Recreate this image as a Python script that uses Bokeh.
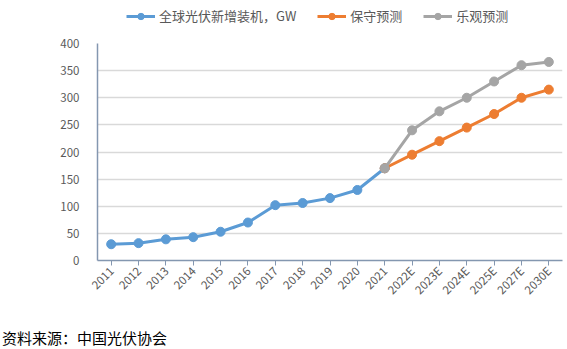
import math
from bokeh.plotting import figure
from bokeh.layouts import column
from bokeh.models import Legend, LegendItem, Div, FactorRange, Range1d, SingleIntervalTicker
from bokeh.embed import file_html
from bokeh.resources import INLINE

categories = ["2011", "2012", "2013", "2014", "2015", "2016", "2017", "2018", "2019",
              "2020", "2021", "2022E", "2023E", "2024E", "2025E", "2027E", "2030E"]
hist_x = categories[:11]
hist_y = [30, 32, 39, 43, 53, 70, 102, 106, 115, 130, 170]
fc_x = categories[10:]
cons_y = [170, 195, 220, 245, 270, 300, 315]
opt_y = [170, 240, 275, 300, 330, 360, 366]

series_names = ["全球光伏新增装机，GW", "保守预测", "乐观预测"]
source_text = "资料来源：中国光伏协会"
BLUE, ORANGE, GRAY = "#5b9bd5", "#ed7d31", "#a5a5a5"
FONT = "Noto Sans CJK SC"
W = 567

# ---- legend strip (frame aligned with the main chart: 97..562) ----
top = figure(x_range=Range1d(0, 1), y_range=Range1d(0, 1), width=W, height=35,
             min_border_left=97, min_border_right=5, min_border_top=0, min_border_bottom=0,
             output_backend="svg", toolbar_location=None, outline_line_color=None,
             background_fill_color="white", border_fill_color="white")
top.axis.visible = False
top.grid.grid_line_color = None
colors = [BLUE, ORANGE, GRAY]
items = []
for name, c in zip(series_names, colors):
    ln = top.line([-5, -4], [-5, -5], line_color=c, line_width=3)
    sc = top.scatter([-5], [-5], size=9, fill_color=c, line_color=c)
    items.append(LegendItem(label=name, renderers=[ln, sc]))
legend = Legend(items=items, orientation="horizontal", location=(29, 10),
                label_text_font=FONT, label_text_font_size="13px",
                label_text_color="#595959", glyph_width=29, glyph_height=16,
                spacing=21, padding=2, margin=0, border_line_color=None,
                background_fill_alpha=0, label_standoff=4)
top.add_layout(legend, "center")

# ---- main chart ----
p = figure(x_range=FactorRange(*categories, range_padding=0), y_range=Range1d(0, 400),
           width=W, height=285, min_border_left=97, min_border_right=5,
           min_border_top=8, min_border_bottom=60,
           output_backend="svg", toolbar_location=None, background_fill_color="white",
           border_fill_color="white", outline_line_color=None)

p.line(hist_x, hist_y, line_color=BLUE, line_width=3)
p.scatter(hist_x, hist_y, size=9, fill_color=BLUE, line_color=BLUE)
p.line(fc_x, cons_y, line_color=ORANGE, line_width=3)
p.scatter(fc_x, cons_y, size=9, fill_color=ORANGE, line_color=ORANGE)
p.line(fc_x, opt_y, line_color=GRAY, line_width=3)
p.scatter(fc_x, opt_y, size=9, fill_color=GRAY, line_color=GRAY)

p.xgrid.grid_line_color = None
p.ygrid.grid_line_color = "#d9d9d9"
p.ygrid.grid_line_width = 1.5
p.yaxis.ticker = SingleIntervalTicker(interval=50)

axis_color = "#8497b0"
for ax in (p.xaxis[0], p.yaxis[0]):
    ax.axis_line_color = axis_color
    ax.axis_line_width = 1.5
    ax.major_label_text_font = FONT
    ax.major_label_text_font_size = "11.5px"
    ax.major_label_text_color = "#595959"
    ax.minor_tick_line_color = None
p.yaxis.major_tick_line_color = None
p.yaxis.major_label_standoff = 12
p.xaxis.major_tick_line_color = axis_color
p.xaxis.major_tick_in = 0
p.xaxis.major_tick_out = 5
p.xaxis.major_label_orientation = math.pi / 4
p.xaxis.major_label_standoff = 3

# ---- source line ----
bot = Div(text=source_text, width=W, height=29,
          styles={"font-family": FONT, "font-size": "15px", "color": "#000000",
                  "line-height": "29px", "padding-left": "2px", "padding-top": "3px",
                  "margin": "0"})

layout = column(top, p, bot, spacing=0)
open("out.html", "w").write(file_html(layout, INLINE))
